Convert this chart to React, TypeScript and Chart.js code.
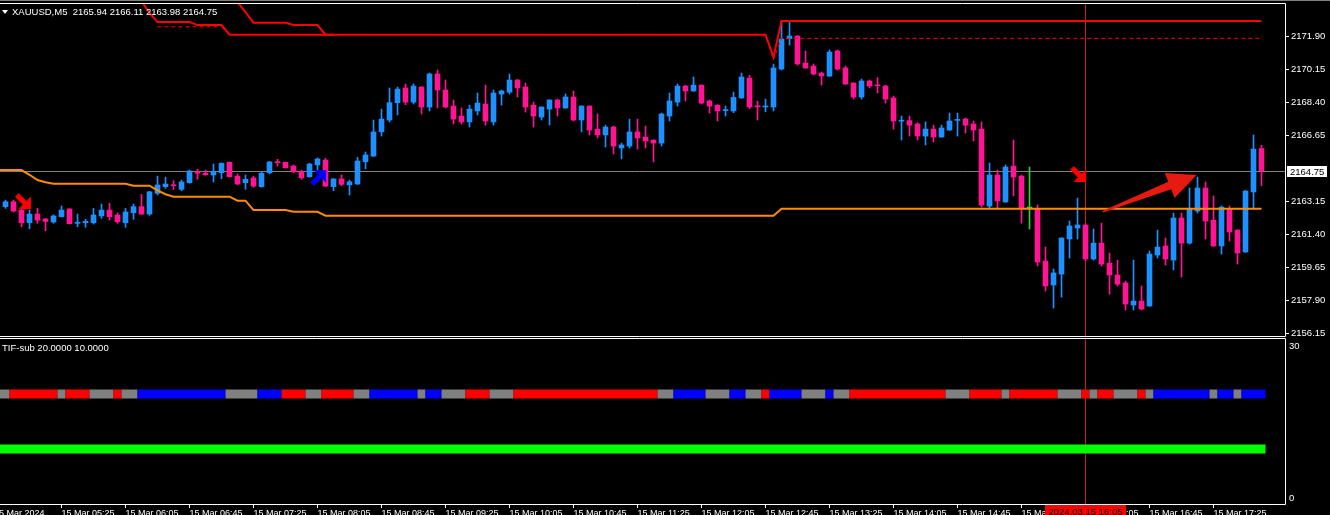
import React, { useEffect, useRef } from "react";
import { Chart, registerables } from "chart.js";

Chart.register(...registerables);

// ---------------- DATA ----------------
const SYMBOL = "XAUUSD,M5";
const INDICATOR = "TIF-sub";

const OPEN = [
  2162.86, 2163.12, 2162.68, 2162.01, 2162.47, 2162.21, 2162.05, 2162.33, 2162.74, 2161.98,
  2162.01, 2162.01, 2162.37, 2162.68, 2162.42, 2162.01, 2162.54, 2162.86, 2162.47, 2163.57,
  2163.92, 2164.02, 2163.78, 2164.13, 2164.73, 2164.63, 2164.54, 2164.66, 2165.21, 2164.48,
  2164.13, 2164.38, 2163.92, 2164.66, 2165.21, 2165.21, 2165.01, 2164.71, 2164.45, 2165.07,
  2165.33, 2163.92, 2164.33, 2164.02, 2164.06, 2165.24, 2165.54, 2166.83, 2167.45, 2168.37,
  2169.15, 2168.40, 2169.20, 2168.14, 2169.89, 2169.04, 2168.19, 2167.66, 2167.35, 2167.93,
  2168.30, 2167.35, 2168.83, 2168.93, 2169.57, 2169.20, 2168.24, 2167.61, 2168.03, 2168.51,
  2168.09, 2168.67, 2167.45, 2168.19, 2166.97, 2166.66, 2167.08, 2165.97, 2166.07, 2166.82,
  2166.55, 2166.39, 2166.23, 2167.66, 2168.40, 2169.25, 2168.99, 2169.30, 2168.46, 2168.24,
  2167.95, 2167.93, 2168.62, 2169.67, 2168.17, 2168.14, 2168.14, 2170.15, 2171.76, 2171.90,
  2170.47, 2170.31, 2169.94, 2169.78, 2171.11, 2170.21, 2169.41, 2168.67, 2169.52, 2169.28,
  2169.25, 2168.62, 2167.39, 2167.42, 2167.24, 2166.60, 2166.97, 2166.55, 2166.92, 2167.43,
  2167.50, 2167.24, 2166.97, 2162.89, 2164.54, 2163.11, 2165.01, 2164.48, 2162.79, 2162.75,
  2159.98, 2158.71, 2159.29, 2161.15, 2161.73, 2161.89, 2160.09, 2160.93, 2159.87, 2159.24,
  2158.82, 2157.65, 2157.86, 2157.60, 2160.30, 2160.78, 2160.03, 2162.26, 2160.93, 2162.63,
  2163.85, 2162.15, 2160.78, 2162.74, 2161.62, 2160.46, 2163.64, 2165.94,
];
const HIGH = [
  2163.21, 2163.21, 2162.72, 2162.68, 2162.77, 2162.23, 2162.43, 2162.90, 2162.76, 2162.47,
  2162.19, 2162.77, 2163.00, 2163.04, 2162.54, 2162.77, 2163.00, 2163.51, 2163.67, 2164.48,
  2164.42, 2164.24, 2164.27, 2164.80, 2164.84, 2164.80, 2165.12, 2165.18, 2165.23, 2164.59,
  2164.54, 2164.48, 2164.71, 2165.26, 2165.37, 2165.23, 2165.07, 2164.80, 2165.16, 2165.44,
  2165.42, 2164.35, 2164.54, 2164.27, 2165.47, 2165.76, 2167.45, 2168.03, 2169.15, 2169.20,
  2169.36, 2169.36, 2169.22, 2169.94, 2170.10, 2169.57, 2168.51, 2168.09, 2168.24, 2168.88,
  2169.30, 2169.04, 2169.04, 2169.89, 2169.60, 2169.41, 2168.40, 2168.16, 2168.53, 2168.56,
  2168.83, 2168.99, 2168.21, 2168.21, 2167.77, 2167.18, 2167.13, 2166.23, 2167.50, 2167.50,
  2167.13, 2166.41, 2167.82, 2168.88, 2169.36, 2169.30, 2169.73, 2169.32, 2168.51, 2168.26,
  2168.19, 2168.93, 2169.94, 2169.82, 2168.46, 2168.56, 2170.42, 2172.66, 2172.64, 2171.92,
  2171.11, 2170.42, 2169.99, 2171.16, 2171.16, 2170.31, 2169.43, 2169.62, 2169.57, 2169.70,
  2169.30, 2168.72, 2167.66, 2167.66, 2167.31, 2167.35, 2167.18, 2167.18, 2167.82, 2167.82,
  2167.56, 2167.40, 2167.35, 2165.17, 2164.80, 2165.07, 2166.39, 2164.54, 2164.96, 2162.95,
  2160.72, 2159.56, 2161.22, 2162.10, 2163.32, 2161.95, 2161.68, 2161.99, 2160.41, 2160.03,
  2158.92, 2160.03, 2158.66, 2160.51, 2161.62, 2161.20, 2162.52, 2162.52, 2163.85, 2164.43,
  2164.17, 2163.43, 2162.90, 2162.90, 2161.64, 2163.72, 2166.66, 2166.11,
];
const LOW = [
  2162.77, 2162.58, 2161.80, 2161.69, 2161.98, 2161.59, 2161.98, 2162.31, 2161.94, 2161.80,
  2161.77, 2161.94, 2162.24, 2162.15, 2161.98, 2161.77, 2162.19, 2162.45, 2162.40, 2163.48,
  2163.83, 2163.78, 2163.71, 2164.10, 2164.31, 2164.52, 2164.17, 2164.34, 2164.43, 2164.02,
  2163.78, 2163.89, 2163.89, 2164.59, 2165.01, 2164.90, 2164.66, 2164.31, 2164.42, 2164.80,
  2163.92, 2163.71, 2163.97, 2163.48, 2164.04, 2164.87, 2165.52, 2166.60, 2167.35, 2167.72,
  2168.26, 2168.30, 2167.77, 2167.93, 2168.09, 2168.09, 2167.24, 2167.24, 2167.08, 2167.72,
  2167.18, 2167.18, 2168.24, 2168.83, 2168.67, 2167.87, 2167.08, 2167.45, 2167.18, 2167.66,
  2168.07, 2167.40, 2166.82, 2166.66, 2166.50, 2166.02, 2165.65, 2165.39, 2165.97, 2165.91,
  2165.97, 2165.23, 2166.07, 2167.40, 2168.19, 2168.46, 2168.97, 2168.30, 2167.82, 2167.40,
  2167.66, 2167.84, 2168.60, 2168.05, 2167.45, 2167.89, 2167.93, 2170.10, 2171.42, 2170.36,
  2170.19, 2169.83, 2169.30, 2169.76, 2170.10, 2169.34, 2168.56, 2168.56, 2169.15, 2168.88,
  2168.35, 2166.97, 2166.39, 2166.60, 2166.39, 2166.13, 2166.29, 2166.53, 2166.90, 2166.60,
  2166.76, 2166.34, 2162.84, 2162.79, 2162.79, 2163.09, 2163.43, 2161.99, 2161.68, 2159.72,
  2158.39, 2157.49, 2158.07, 2160.14, 2161.15, 2160.00, 2160.03, 2159.72, 2158.23, 2158.66,
  2157.39, 2157.39, 2157.39, 2157.58, 2160.14, 2159.77, 2159.51, 2159.13, 2160.88, 2162.52,
  2161.15, 2160.75, 2160.35, 2161.04, 2159.82, 2160.44, 2162.79, 2163.98,
];
const CLOSE = [
  2163.12, 2162.63, 2162.01, 2162.47, 2162.15, 2162.08, 2162.37, 2162.68, 2161.96, 2162.01,
  2162.08, 2162.42, 2162.68, 2162.33, 2162.06, 2162.58, 2162.86, 2162.47, 2163.65, 2164.01,
  2164.06, 2163.97, 2164.17, 2164.75, 2164.63, 2164.55, 2164.73, 2165.16, 2164.45, 2164.06,
  2164.31, 2163.95, 2164.63, 2165.23, 2165.19, 2164.92, 2164.71, 2164.39, 2165.12, 2165.39,
  2163.95, 2164.33, 2164.04, 2164.18, 2165.28, 2165.60, 2166.82, 2167.50, 2168.37, 2169.09,
  2168.40, 2169.25, 2168.14, 2169.89, 2169.04, 2168.14, 2167.50, 2167.35, 2168.03, 2168.35,
  2167.40, 2168.88, 2168.99, 2169.57, 2169.15, 2168.14, 2167.66, 2168.14, 2168.51, 2168.09,
  2168.67, 2167.45, 2168.19, 2166.92, 2166.66, 2167.08, 2166.07, 2166.13, 2166.82, 2166.50,
  2166.34, 2166.23, 2167.77, 2168.46, 2169.25, 2168.99, 2169.30, 2168.35, 2168.19, 2167.93,
  2167.98, 2168.65, 2169.73, 2168.14, 2168.15, 2168.17, 2170.21, 2171.74, 2171.90, 2170.42,
  2170.21, 2169.89, 2169.78, 2171.05, 2170.15, 2169.36, 2168.67, 2169.52, 2169.25, 2169.26,
  2168.56, 2167.40, 2167.41, 2167.18, 2166.60, 2166.97, 2166.55, 2167.03, 2167.40, 2167.45,
  2167.18, 2166.92, 2162.95, 2164.54, 2163.16, 2164.96, 2164.43, 2162.75, 2162.79, 2159.93,
  2158.66, 2159.35, 2161.20, 2161.84, 2161.89, 2160.09, 2160.93, 2159.82, 2159.24, 2158.76,
  2157.70, 2157.86, 2157.44, 2160.35, 2160.72, 2160.09, 2162.26, 2160.93, 2162.74, 2163.85,
  2162.10, 2160.78, 2162.84, 2161.52, 2160.41, 2163.69, 2165.91, 2164.75,
];

// indicator lines on the price window: [bar, price]
const ORANGE_LINE: [number, number][] = [
  [-2, 2164.8], [2, 2164.8], [3, 2164.55], [4, 2164.27], [5, 2164.15], [6, 2164.08],
  [15, 2164.08], [16, 2163.97], [18, 2163.97], [19, 2163.72], [20, 2163.52], [21, 2163.39],
  [28, 2163.39], [29, 2163.18], [30, 2163.18], [31, 2162.68], [35, 2162.68], [36, 2162.59],
  [39, 2162.59], [40, 2162.38], [96, 2162.38], [97, 2162.75], [157, 2162.75],
];
const RED_LINE_A: [number, number][] = [
  [17, 2173.75], [18, 2173.12], [19, 2172.64], [23, 2172.64], [24, 2172.48], [27, 2172.48],
  [28, 2171.97], [95, 2171.97], [96, 2170.79], [97, 2172.69], [157, 2172.69],
];
const RED_LINE_B: [number, number][] = [
  [29, 2173.7], [30, 2173.17], [31, 2172.6], [35, 2172.6], [36, 2172.48], [39, 2172.48],
  [40, 2171.97], [41, 2171.97],
];
const RED_DASHED: [number, number][] = [
  [19, 2172.39], [27, 2172.39], [28, 2171.97], [95, 2171.97], [96, 2170.65], [97, 2171.78],
  [157, 2171.78],
];

const SELL_SIGNALS: [number, number][] = [[2.3, 2163.1], [134.2, 2164.54]];
const BUY_SIGNALS: [number, number][] = [[39.2, 2164.43]];
const TREND_ARROW: [number, number][] = [[137.15, 2162.59], [148.9, 2164.54]];

const PRICE_TICKS = [2171.9, 2170.15, 2168.4, 2166.65, 2163.15, 2161.4, 2159.65, 2157.9, 2156.15];
const START_LABEL = "15 Mar 2024";
const TIME_TICK_BARS = [7, 15, 23, 31, 39, 47, 55, 63, 71, 79, 87, 95, 103, 111, 119, 127, 135, 143, 151];
const TIME_LABELS = [
  "15 Mar 05:25", "15 Mar 06:05", "15 Mar 06:45", "15 Mar 07:25", "15 Mar 08:05",
  "15 Mar 08:45", "15 Mar 09:25", "15 Mar 10:05", "15 Mar 10:45", "15 Mar 11:25",
  "15 Mar 12:05", "15 Mar 12:45", "15 Mar 13:25", "15 Mar 14:05", "15 Mar 14:45",
  "15 Mar 15:25", "15 Mar 16:05", "15 Mar 16:45", "15 Mar 17:25",
];
const VLINE_BAR = 135;
const VLINE_LABEL = "2024.03.15 16:05";

// sub window: indicator levels and colour-state runs (state, number of bars) from bar -1
const TIF_LEVELS = [20, 10];
const TIF_FIRST_BAR = -1;
const TIF_RUNS: [string, number][] = [
  ["G", 2], ["R", 6], ["G", 1], ["R", 3], ["G", 3], ["R", 1], ["G", 2], ["B", 11], ["G", 4],
  ["B", 3], ["R", 3], ["G", 2], ["R", 4], ["G", 2], ["B", 6], ["G", 1], ["B", 2], ["G", 3],
  ["R", 3], ["G", 3], ["R", 18], ["G", 2], ["B", 4], ["G", 3], ["B", 2], ["G", 2], ["R", 1],
  ["B", 4], ["G", 3], ["B", 1], ["G", 2], ["R", 12], ["G", 3], ["R", 4], ["G", 1], ["R", 6],
  ["G", 3], ["R", 1], ["G", 1], ["R", 2], ["G", 3], ["R", 1], ["G", 1], ["B", 7], ["G", 1],
  ["B", 2], ["G", 1], ["B", 3],
];
const SUB_RANGE = [0, 30];

// ---------------- STYLE / LAYOUT ----------------
const FONT = "'Liberation Sans', Arial, sans-serif";
const BULL = "#1E90FF";
const BEAR = "#FF1493";
const DOJI = "#32CD32";
const STATE_COLORS: Record<string, string> = { G: "#808080", R: "#FF0000", B: "#0000FF" };
const VLINE_COLOR = "#C81E1E";
const X_MIN = -1.4375;
const X_MAX = 159.9375;
const Y_MIN = 2156.01;
const Y_MAX = 2173.65;
const AXIS_W = 45;

const LAST = CLOSE.length - 1;
const fmt = (v: number) => v.toFixed(2);
const candleColor = (i: number) =>
  CLOSE[i] > OPEN[i] ? BULL : CLOSE[i] < OPEN[i] ? BEAR : DOJI;
const pts = (a: [number, number][]) => a.map(([x, y]) => ({ x, y }));

const noPad = (axis: any) => {
  axis.paddingTop = 0;
  axis.paddingBottom = 0;
  axis.paddingLeft = 0;
  axis.paddingRight = 0;
};

function makeArrow(color: string, up: boolean): HTMLCanvasElement {
  const c = document.createElement("canvas");
  c.width = 18;
  c.height = 18;
  const g = c.getContext("2d")!;
  g.translate(9, 9);
  g.rotate(up ? -Math.PI / 4 : Math.PI / 4);
  g.fillStyle = color;
  g.beginPath();
  g.moveTo(-10, -2.6);
  g.lineTo(1, -2.6);
  g.lineTo(1, -9);
  g.lineTo(10, 0);
  g.lineTo(1, 9);
  g.lineTo(1, 2.6);
  g.lineTo(-10, 2.6);
  g.closePath();
  g.fill();
  return c;
}

const mainDecor = {
  id: "mainDecor",
  beforeDatasetsDraw(chart: any) {
    const { ctx, chartArea: a, scales } = chart;
    const x = scales.x, y = scales.y;
    ctx.save();
    const py = Math.floor(y.getPixelForValue(CLOSE[LAST])) + 0.5;
    ctx.strokeStyle = "#808080";
    ctx.lineWidth = 1;
    ctx.beginPath();
    ctx.moveTo(a.left, py);
    ctx.lineTo(a.right, py);
    ctx.stroke();
    const vx = Math.floor(x.getPixelForValue(VLINE_BAR)) + 0.5;
    ctx.strokeStyle = VLINE_COLOR;
    ctx.beginPath();
    ctx.moveTo(vx, a.top);
    ctx.lineTo(vx, a.bottom + 1);
    ctx.stroke();
    ctx.restore();
  },
  afterDatasetsDraw(chart: any) {
    const { ctx, scales } = chart;
    const x = scales.x, y = scales.y;
    const p0 = { x: x.getPixelForValue(TREND_ARROW[0][0]), y: y.getPixelForValue(TREND_ARROW[0][1]) };
    const p1 = { x: x.getPixelForValue(TREND_ARROW[1][0]), y: y.getPixelForValue(TREND_ARROW[1][1]) };
    const dx = p1.x - p0.x, dy = p1.y - p0.y;
    const len = Math.hypot(dx, dy);
    const ux = dx / len, uy = dy / len;
    const nx = -uy, ny = ux;
    const hl = 29, hw = 13.5, sw0 = 0.9, sw1 = 4;
    const bx = p1.x - ux * hl, by = p1.y - uy * hl;
    ctx.save();
    ctx.fillStyle = "#E61A10";
    ctx.beginPath();
    ctx.moveTo(p0.x + nx * sw0, p0.y + ny * sw0);
    ctx.lineTo(bx + nx * sw1, by + ny * sw1);
    ctx.lineTo(bx + nx * hw, by + ny * hw);
    ctx.lineTo(p1.x, p1.y);
    ctx.lineTo(bx - nx * hw, by - ny * hw);
    ctx.lineTo(bx - nx * sw1, by - ny * sw1);
    ctx.lineTo(p0.x - nx * sw0, p0.y - ny * sw0);
    ctx.closePath();
    ctx.fill();
    ctx.restore();
  },
  afterDraw(chart: any) {
    const { ctx, chartArea: a, scales } = chart;
    const y = scales.y;
    ctx.save();
    ctx.strokeStyle = "#FFFFFF";
    ctx.lineWidth = 1;
    ctx.beginPath();
    ctx.moveTo(a.left, a.top + 0.5);
    ctx.lineTo(a.right + 0.5, a.top + 0.5);
    ctx.lineTo(a.right + 0.5, a.bottom + 0.5);
    ctx.lineTo(a.left, a.bottom + 0.5);
    ctx.stroke();
    const py = Math.floor(y.getPixelForValue(CLOSE[LAST])) + 0.5;
    ctx.fillStyle = "#FFFFFF";
    ctx.fillRect(a.right + 2, py - 5.5, 40, 11);
    ctx.fillStyle = "#000000";
    ctx.font = `9.5px ${FONT}`;
    ctx.textAlign = "left";
    ctx.textBaseline = "alphabetic";
    ctx.fillText(fmt(CLOSE[LAST]), a.right + 5, py + 3.5);
    ctx.restore();
  },
};

const subDecor = {
  id: "subDecor",
  beforeDatasetsDraw(chart: any) {
    const { ctx, chartArea: a, scales } = chart;
    const vx = Math.floor(scales.x.getPixelForValue(VLINE_BAR)) + 0.5;
    ctx.save();
    ctx.strokeStyle = VLINE_COLOR;
    ctx.lineWidth = 1;
    ctx.beginPath();
    ctx.moveTo(vx, 0);
    ctx.lineTo(vx, a.bottom + 1);
    ctx.stroke();
    ctx.restore();
  },
  afterDraw(chart: any) {
    const { ctx, chartArea: a, scales } = chart;
    ctx.save();
    ctx.strokeStyle = "#FFFFFF";
    ctx.lineWidth = 1;
    ctx.beginPath();
    ctx.moveTo(a.left, a.top - 0.5);
    ctx.lineTo(a.right + 0.5, a.top - 0.5);
    ctx.lineTo(a.right + 0.5, a.bottom + 0.5);
    ctx.lineTo(a.left, a.bottom + 0.5);
    ctx.stroke();
    ctx.fillStyle = "#FFFFFF";
    ctx.font = `9.5px ${FONT}`;
    ctx.textAlign = "left";
    ctx.textBaseline = "alphabetic";
    ctx.fillText(String(SUB_RANGE[1]), a.right + 4, a.top + 10);
    ctx.fillText(String(SUB_RANGE[0]), a.right + 4, a.bottom - 3);
    const vx = Math.floor(scales.x.getPixelForValue(VLINE_BAR));
    ctx.fillStyle = "#FF0000";
    ctx.fillRect(vx - 40, a.bottom + 1, 81, 20);
    ctx.fillStyle = "#000000";
    ctx.textAlign = "center";
    ctx.fillText(VLINE_LABEL, vx + 0.5, a.bottom + 11);
    ctx.restore();
  },
};

export default function App() {
  const mainRef = useRef<HTMLCanvasElement>(null);
  const subRef = useRef<HTMLCanvasElement>(null);

  useEffect(() => {
    document.body.style.margin = "0";
    document.body.style.background = "#000";
    Chart.defaults.font.family = FONT;
    Chart.defaults.color = "#FFFFFF";

    const idx = OPEN.map((_, i) => i);
    const colors = idx.map(candleColor);
    const sellImg = makeArrow("#FF0000", false);
    const buyImg = makeArrow("#0000FF", true);

    const main = new Chart(mainRef.current!, {
      type: "bar",
      data: {
        datasets: [
          {
            type: "bar",
            data: idx.map((i) => ({ x: i, y: [LOW[i], HIGH[i]] })) as any,
            backgroundColor: colors,
            barThickness: 1,
            grouped: false,
            borderWidth: 0,
            order: 10,
          },
          {
            type: "bar",
            data: idx.map((i) => ({ x: i, y: [OPEN[i], CLOSE[i]] })) as any,
            backgroundColor: colors,
            barThickness: 5,
            minBarLength: 1,
            grouped: false,
            borderWidth: 0,
            order: 9,
          },
          {
            type: "line",
            data: pts(ORANGE_LINE) as any,
            borderColor: "#FF8C00",
            borderWidth: 2,
            pointRadius: 0,
            tension: 0,
            order: 5,
          },
          {
            type: "line",
            data: pts(RED_DASHED) as any,
            borderColor: "#FF0000",
            borderWidth: 1,
            borderDash: [4, 3],
            pointRadius: 0,
            tension: 0,
            order: 4,
          },
          {
            type: "line",
            data: pts(RED_LINE_A) as any,
            borderColor: "#FF0000",
            borderWidth: 2,
            pointRadius: 0,
            tension: 0,
            order: 3,
          },
          {
            type: "line",
            data: pts(RED_LINE_B) as any,
            borderColor: "#FF0000",
            borderWidth: 2,
            pointRadius: 0,
            tension: 0,
            order: 3,
          },
          {
            type: "scatter",
            data: pts(SELL_SIGNALS) as any,
            pointStyle: sellImg as any,
            pointRadius: 8,
            order: 1,
          },
          {
            type: "scatter",
            data: pts(BUY_SIGNALS) as any,
            pointStyle: buyImg as any,
            pointRadius: 8,
            order: 1,
          },
        ],
      },
      options: {
        animation: false,
        responsive: false,
        maintainAspectRatio: false,
        events: [],
        layout: { autoPadding: false, padding: { top: 3, bottom: 1, left: 0, right: 0 } },
        plugins: { legend: { display: false }, tooltip: { enabled: false } },
        scales: {
          x: {
            type: "linear",
            min: X_MIN,
            max: X_MAX,
            offset: false,
            bounds: "data",
            display: false,
          },
          y: {
            type: "linear",
            position: "right",
            min: Y_MIN,
            max: Y_MAX,
            bounds: "data",
            beginAtZero: false,
            afterFit: (axis: any) => {
              axis.width = AXIS_W;
              noPad(axis);
            },
            afterBuildTicks: (axis: any) => {
              axis.ticks = PRICE_TICKS.map((v) => ({ value: v }));
            },
            border: { display: false },
            grid: { drawOnChartArea: false, drawTicks: true, tickLength: 4, color: "#FFFFFF" },
            ticks: {
              autoSkip: false,
              color: "#FFFFFF",
              padding: 2,
              font: { family: FONT, size: 9.5 },
              callback: (v: any) => Number(v).toFixed(2),
            },
          },
        },
      },
      plugins: [mainDecor],
    } as any);

    const tifPoints: { x: number; y: number }[] = [];
    let b = TIF_FIRST_BAR;
    TIF_RUNS.forEach(([, n]) => {
      tifPoints.push({ x: b - 0.5, y: TIF_LEVELS[0] });
      b += n;
    });
    tifPoints.push({ x: b - 0.5, y: TIF_LEVELS[0] });
    const lastBar = b - 1;

    const allLabels = [START_LABEL, ...TIME_LABELS];

    const sub = new Chart(subRef.current!, {
      type: "line",
      data: {
        datasets: [
          {
            data: tifPoints as any,
            borderColor: STATE_COLORS.G,
            segment: {
              borderColor: (ctx: any) => STATE_COLORS[TIF_RUNS[ctx.p0DataIndex][0]],
            },
            borderWidth: 9,
            borderCapStyle: "butt",
            pointRadius: 0,
            tension: 0,
          },
          {
            data: [
              { x: TIF_FIRST_BAR - 0.5, y: TIF_LEVELS[1] },
              { x: lastBar + 0.5, y: TIF_LEVELS[1] },
            ] as any,
            borderColor: "#00FF00",
            borderWidth: 9,
            borderCapStyle: "butt",
            pointRadius: 0,
            tension: 0,
          },
        ],
      },
      options: {
        animation: false,
        responsive: false,
        maintainAspectRatio: false,
        events: [],
        layout: { autoPadding: false, padding: { top: 2, bottom: 0, left: 0, right: 0 } },
        plugins: { legend: { display: false }, tooltip: { enabled: false } },
        scales: {
          x: {
            type: "linear",
            position: "bottom",
            min: X_MIN,
            max: X_MAX,
            offset: false,
            bounds: "data",
            afterFit: (axis: any) => {
              axis.height = 11;
              noPad(axis);
            },
            afterBuildTicks: (axis: any) => {
              axis.ticks = [{ value: X_MIN }, ...TIME_TICK_BARS.map((v) => ({ value: v }))];
            },
            border: { display: false },
            grid: { drawOnChartArea: false, drawTicks: true, tickLength: 4, color: "#FFFFFF" },
            ticks: {
              autoSkip: false,
              maxRotation: 0,
              minRotation: 0,
              align: "start",
              padding: 0,
              color: "#FFFFFF",
              font: { family: FONT, size: 9 },
              callback: (_v: any, i: number) => allLabels[i],
            },
          },
          y: {
            type: "linear",
            position: "right",
            min: SUB_RANGE[0],
            max: SUB_RANGE[1],
            bounds: "data",
            afterFit: (axis: any) => {
              axis.width = AXIS_W;
              noPad(axis);
            },
            border: { display: false },
            grid: { display: false },
            ticks: { display: false },
          },
        },
      },
      plugins: [subDecor],
    } as any);

    return () => {
      main.destroy();
      sub.destroy();
    };
  }, []);

  const textStyle: React.CSSProperties = {
    position: "absolute",
    color: "#FFFFFF",
    fontFamily: FONT,
    fontSize: "9.5px",
    lineHeight: "11px",
    whiteSpace: "pre",
  };

  return (
    <div
      style={{
        position: "relative",
        width: 1330,
        height: 515,
        overflow: "hidden",
        background: "#000000",
      }}
    >
      <div style={{ position: "absolute", left: 0, top: 0, width: 1330, height: 1, background: "#808080" }} />
      <canvas
        ref={mainRef}
        width={1336}
        height={337}
        style={{ position: "absolute", left: -6, top: 0, display: "block" }}
      />
      <canvas
        ref={subRef}
        width={1336}
        height={178}
        style={{ position: "absolute", left: -6, top: 337, display: "block" }}
      />
      <div
        style={{
          position: "absolute",
          left: 2,
          top: 10,
          width: 0,
          height: 0,
          borderLeft: "3.5px solid transparent",
          borderRight: "3.5px solid transparent",
          borderTop: "4px solid #FFFFFF",
        }}
      />
      <div style={{ ...textStyle, left: 12, top: 6 }}>
        {`${SYMBOL}  ${fmt(OPEN[LAST])} ${fmt(HIGH[LAST])} ${fmt(LOW[LAST])} ${fmt(CLOSE[LAST])}`}
      </div>
      <div style={{ ...textStyle, left: 2, top: 342 }}>
        {`${INDICATOR} ${TIF_LEVELS[0].toFixed(4)} ${TIF_LEVELS[1].toFixed(4)}`}
      </div>
    </div>
  );
}
